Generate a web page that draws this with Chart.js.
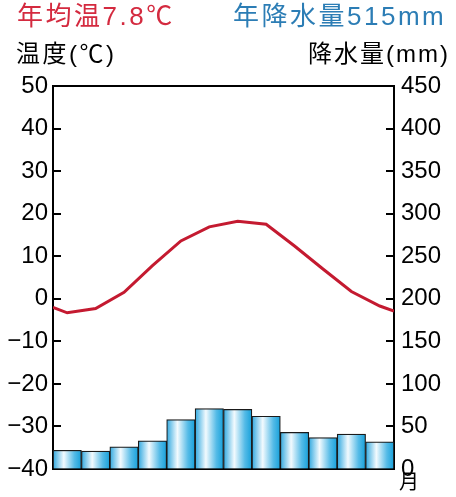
<!DOCTYPE html>
<html>
<head>
<meta charset="utf-8">
<script src="https://cdn.jsdelivr.net/npm/chart.js@4"></script>
<style>
  body { margin: 0; background: #fff; }
  #wrap { position: relative; width: 456px; height: 497px; }
  #chart { position: absolute; left: 0; top: 0; }
  .txt { position: absolute; white-space: nowrap; font-family: "Liberation Sans", "Noto Sans CJK JP", sans-serif; line-height: 1; }
</style>
</head>
<body>
<div id="wrap">
  <canvas id="chart" width="456" height="497"></canvas>
  <div class="txt" style="left:17px; top:3px; font-size:26px; color:#d42a3f; letter-spacing:2.5px;">年均温7.8℃</div>
  <div class="txt" style="left:233px; top:3px; font-size:26px; color:#2c7db5; letter-spacing:2.5px;">年降水量515mm</div>
  <div class="txt" style="left:16px; top:42px; font-size:24px; color:#000; letter-spacing:2.5px;">温度(℃)</div>
  <div class="txt" style="right:6px; top:42px; font-size:24px; color:#000; letter-spacing:2px;">降水量(mm)</div>
  <div class="txt" style="left:399px; top:472px; font-size:20px; color:#000;">月</div>
</div>
<script>
// データ
const months = [1, 2, 3, 4, 5, 6, 7, 8, 9, 10, 11, 12];
const temperature = [-3.3, -2.3, 1.5, 7.8, 13.6, 16.9, 18.2, 17.5, 12.4, 7.0, 1.7, -1.7];
const tempEdges = [-2.0, -2.9]; // 左端・右端の線の値
const precipitation = [22, 21, 26, 33, 58, 71, 70, 62, 43, 37, 41, 32];
const tempTicks = { min: -40, max: 50, step: 10 };
const precTicks = { min: 0, max: 450, step: 50 };

const FONT = '"Liberation Sans", "Noto Sans CJK JP", sans-serif';

// 線のデータ: 端の点 + 各月
const linePoints = [{ x: 0.5, y: tempEdges[0] }]
  .concat(months.map((m, i) => ({ x: m, y: temperature[i] })))
  .concat([{ x: 12.5, y: tempEdges[1] }]);

const barPoints = months.map((m, i) => ({ x: m, y: precipitation[i] }));

// 棒のグラデーション（横方向）
function barFill(ctx) {
  const chart = ctx.chart;
  if (!chart.chartArea) return '#29a9e1';
  const xs = chart.scales.x;
  const m = months[ctx.dataIndex];
  const x0 = xs.getPixelForValue(m - 0.5);
  const x1 = xs.getPixelForValue(m + 0.5);
  const g = chart.ctx.createLinearGradient(x0, 0, x1, 0);
  g.addColorStop(0, '#30a8df');
  g.addColorStop(0.38, '#f2fafe');
  g.addColorStop(0.75, '#55bbe7');
  g.addColorStop(1, '#16a0da');
  return g;
}

// 目盛りを内側に描く
const innerTicks = {
  id: 'innerTicks',
  afterDraw(chart) {
    const c = chart.ctx;
    const area = chart.chartArea;
    c.save();
    c.strokeStyle = '#000';
    c.lineWidth = 2;
    [['y', area.left, 1], ['y2', area.right, -1]].forEach(([id, x, dir]) => {
      const s = chart.scales[id];
      s.ticks.forEach(t => {
        if (t.value === s.min || t.value === s.max) return;
        const y = Math.round(s.getPixelForValue(t.value));
        c.beginPath();
        c.moveTo(x, y);
        c.lineTo(x + dir * 8, y);
        c.stroke();
      });
    });
    c.restore();
  }
};

const minus = v => String(v).replace('-', '−');

const ctx = document.querySelector('#chart').getContext('2d');
new Chart(ctx, {
  data: {
    datasets: [
      {
        type: 'line',
        data: linePoints,
        yAxisID: 'y',
        xAxisID: 'x',
        borderColor: '#c41a30',
        borderWidth: 3,
        pointRadius: 0,
        tension: 0,
        order: 0
      },
      {
        type: 'bar',
        data: barPoints,
        yAxisID: 'y2',
        xAxisID: 'x',
        backgroundColor: barFill,
        borderColor: '#1a1a1a',
        borderWidth: 1.2,
        barPercentage: 1,
        categoryPercentage: 1,
        order: 1
      }
    ]
  },
  plugins: [innerTicks],
  options: {
    responsive: false,
    animation: false,
    layout: { padding: { top: 86, left: 0, right: 0, bottom: 0 } },
    plugins: { legend: { display: false }, tooltip: { enabled: false } },
    scales: {
      x: {
        type: 'linear',
        position: 'bottom',
        min: 0.5,
        max: 12.5,
        offset: false,
        ticks: { stepSize: 1, color: '#000', font: { size: 18, family: FONT }, padding: 5, maxRotation: 0 },
        grid: { drawOnChartArea: false, drawTicks: false },
        border: { color: '#000', width: 2 },
        afterBuildTicks: s => { s.ticks = s.ticks.filter(t => Number.isInteger(t.value)); },
        afterFit: s => { s.height = 28; }
      },
      xTop: {
        type: 'linear',
        position: 'top',
        min: 0,
        max: 1,
        ticks: { display: false },
        grid: { drawOnChartArea: false, drawTicks: false },
        border: { color: '#000', width: 2 },
        afterFit: s => { s.height = 0; }
      },
      y: {
        position: 'left',
        min: tempTicks.min,
        max: tempTicks.max,
        ticks: { stepSize: tempTicks.step, color: '#000', font: { size: 24, family: FONT }, padding: 5, callback: minus },
        grid: { drawOnChartArea: false, drawTicks: false },
        border: { color: '#000', width: 2 },
        afterFit: s => { s.width = 53; }
      },
      y2: {
        position: 'right',
        min: precTicks.min,
        max: precTicks.max,
        ticks: { stepSize: precTicks.step, color: '#000', font: { size: 24, family: FONT }, padding: 7 },
        grid: { drawOnChartArea: false, drawTicks: false },
        border: { color: '#000', width: 2 },
        afterFit: s => { s.width = 62; }
      }
    }
  }
});
</script>
</body>
</html>
